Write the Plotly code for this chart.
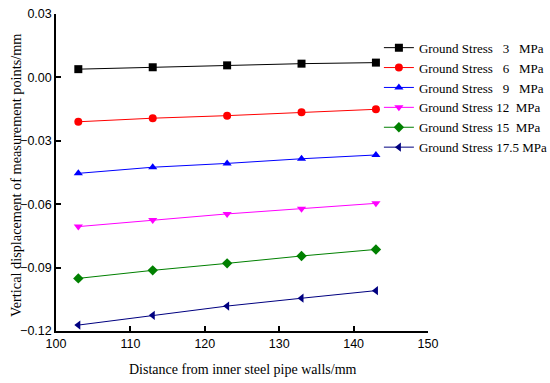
import plotly.graph_objects as go

distance = [103, 113, 123, 133, 143]
stress_labels = ["3", "6", "9", "12", "15", "17.5"]
disp_3 = [0.0039, 0.0048, 0.0057, 0.0065, 0.0070]
disp_6 = [-0.0210, -0.0193, -0.0181, -0.0165, -0.0151]
disp_9 = [-0.0454, -0.0425, -0.0407, -0.0385, -0.0367]
disp_12 = [-0.0706, -0.0675, -0.0646, -0.0621, -0.0596]
disp_15 = [-0.0951, -0.0913, -0.0880, -0.0845, -0.0814]
disp_175 = [-0.1172, -0.1126, -0.1082, -0.1045, -0.1009]

series = [disp_3, disp_6, disp_9, disp_12, disp_15, disp_175]
colors = ["#000000", "#ff0000", "#0000ff", "#ff00ff", "#008000", "#000080"]
symbols = ["square", "circle", "triangle-up", "triangle-down", "diamond", "triangle-left"]
names = [
    "Ground Stress\u00a0\u00a0\u00a03\u00a0\u00a0\u00a0MPa",
    "Ground Stress\u00a0\u00a0\u00a06\u00a0\u00a0\u00a0MPa",
    "Ground Stress\u00a0\u00a0\u00a09\u00a0\u00a0\u00a0MPa",
    "Ground Stress\u00a012\u00a0\u00a0MPa",
    "Ground Stress\u00a015\u00a0\u00a0MPa",
    "Ground Stress\u00a017.5\u00a0MPa",
]

fig = go.Figure()
for vals, c, s, n in zip(series, colors, symbols, names):
    fig.add_trace(go.Scatter(
        x=distance, y=vals, mode="lines+markers", name=n,
        line=dict(color=c, width=1),
        marker=dict(symbol=s, size=8, color=c),
    ))

fig.update_layout(
    width=550, height=383,
    margin=dict(l=56, r=122, t=14, b=52, autoexpand=False),
    paper_bgcolor="white", plot_bgcolor="white",
    font=dict(family="Liberation Serif", size=13, color="black"),
    legend=dict(
        x=0.868, y=0.941, xanchor="left", yanchor="top",
        font=dict(family="Liberation Serif", size=13, color="black"),
        tracegroupgap=0,
        bgcolor="rgba(0,0,0,0)",
    ),
    showlegend=True,
    annotations=[
        dict(text="Vertical displacement of measurement points/mm",
             xref="paper", yref="paper", x=-0.1075, y=0.489,
             xanchor="center", yanchor="middle", textangle=-90, showarrow=False,
             font=dict(family="Liberation Serif", size=14.3, color="black")),
        dict(text="Distance from inner steel pipe walls/mm",
             xref="paper", yref="paper", x=0.504, y=-0.12,
             xanchor="center", yanchor="middle", showarrow=False,
             font=dict(family="Liberation Serif", size=14, color="black")),
    ],
)
fig.update_xaxes(
    range=[100, 150], dtick=10, tick0=100,
    showline=True, linecolor="black", linewidth=1.5,
    ticks="inside", ticklen=5, tickcolor="black", tickwidth=1.5,
    showgrid=False, zeroline=False, automargin=False, ticklabeloverflow="allow",
    tickfont=dict(family="Liberation Sans", size=12.5, color="black"),
)
fig.update_yaxes(
    range=[-0.12, 0.03], dtick=0.03, tick0=0,
    tickformat=".2f",
    showline=True, linecolor="black", linewidth=1.5,
    ticks="inside", ticklen=5, tickcolor="black", tickwidth=1.5,
    showgrid=False, zeroline=False, automargin=False, ticklabeloverflow="allow",
    tickfont=dict(family="Liberation Sans", size=12.5, color="black"),
)

fig.write_html(
    "out.html",
    config={"displayModeBar": False},
    post_script="document.body.style.margin='0';document.body.style.overflow='hidden';",
)
